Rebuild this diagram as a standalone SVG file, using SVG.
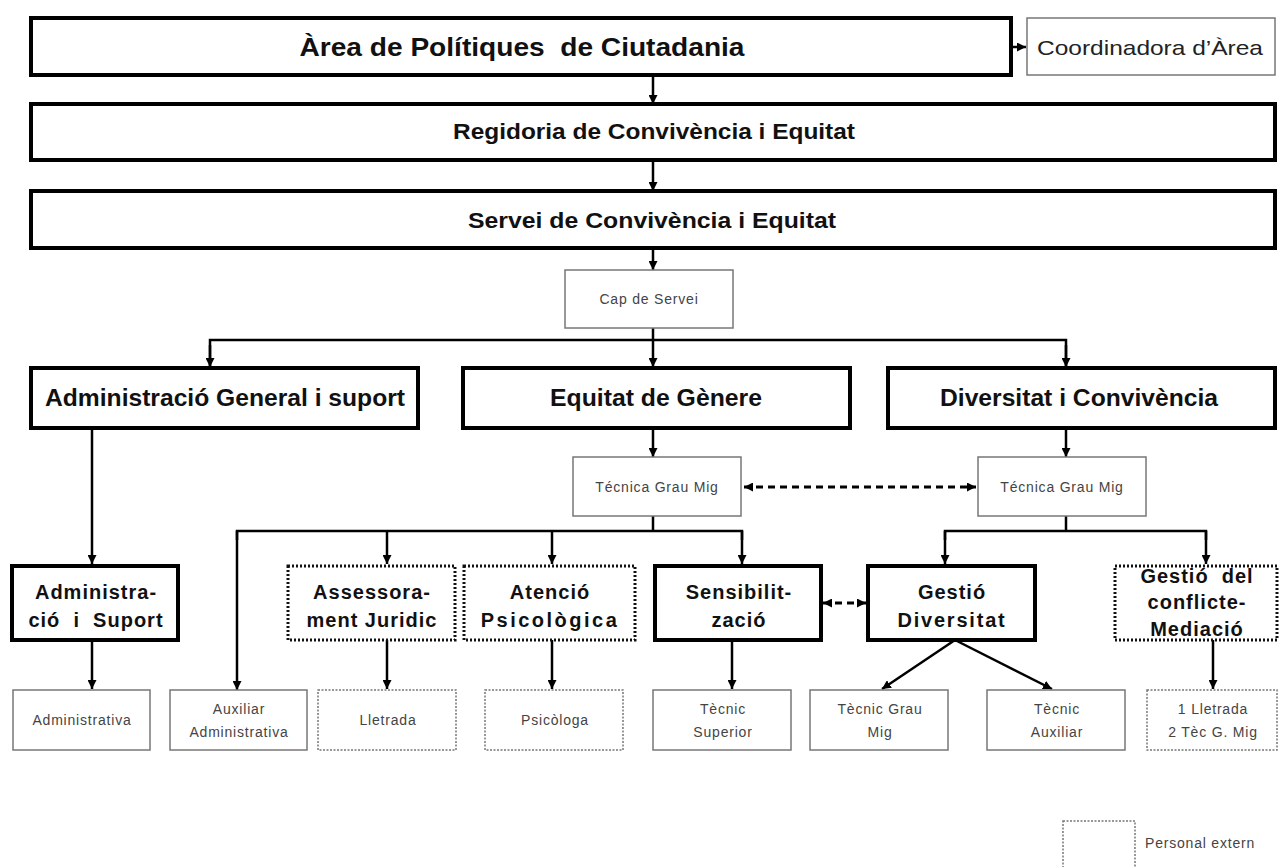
<svg xmlns="http://www.w3.org/2000/svg" width="1280" height="867" viewBox="0 0 1280 867">
<defs>
<marker id="ah" viewBox="0 0 10 10" refX="10" refY="5" markerWidth="9" markerHeight="9" markerUnits="userSpaceOnUse" orient="auto-start-reverse"><path d="M0,0 L10,5 L0,10 z" fill="#000"/></marker>
<style>
.thick{fill:#fff;stroke:#000;stroke-width:4}
.dotk{fill:#fff;stroke:#111;stroke-width:3;stroke-dasharray:2 2}
.thin{fill:#fff;stroke:#777;stroke-width:1.5}
.dott{fill:#fff;stroke:#777;stroke-width:1.5;stroke-dasharray:2 1.5}
.h1{font-family:"Liberation Sans",Arial,sans-serif;font-weight:bold;fill:#111;text-anchor:middle}
.h2{font-family:"Liberation Sans",Arial,sans-serif;font-weight:bold;fill:#111;text-anchor:middle;font-size:20px;letter-spacing:1px}
.sm{font-family:"Liberation Sans",Arial,sans-serif;fill:#444;text-anchor:middle;font-size:14px;letter-spacing:0.8px}
.ln{fill:none;stroke:#000;stroke-width:2.5}
.la{fill:none;stroke:#000;stroke-width:2.5;marker-end:url(#ah)}
.da{fill:none;stroke:#000;stroke-width:3;stroke-dasharray:7 5;marker-start:url(#ah);marker-end:url(#ah)}
</style>
</defs>
<rect width="1280" height="867" fill="#fff"/>

<g id="connectors">
<line class="la" x1="1011" y1="47" x2="1026" y2="47"/>
<line class="la" x1="653" y1="75" x2="653" y2="104"/>
<line class="la" x1="653" y1="160" x2="653" y2="191"/>
<line class="la" x1="653" y1="248" x2="653" y2="270"/>
<line class="ln" x1="653" y1="328" x2="653" y2="340"/>
<polyline class="ln" points="210,367 210,340 1066,340 1066,367"/>
<line class="la" x1="210" y1="345" x2="210" y2="367"/>
<line class="la" x1="653" y1="340" x2="653" y2="367"/>
<line class="la" x1="1066" y1="345" x2="1066" y2="367"/>
<line class="la" x1="653" y1="428" x2="653" y2="457"/>
<line class="la" x1="1066" y1="428" x2="1066" y2="457"/>
<line class="da" x1="744" y1="487" x2="976" y2="487"/>
<line class="ln" x1="653" y1="516" x2="653" y2="531"/>
<polyline class="ln" points="237,540 237,531 742,531 742,540"/>
<line class="la" x1="237" y1="531" x2="237" y2="690"/>
<line class="la" x1="387" y1="531" x2="387" y2="564"/>
<line class="la" x1="552" y1="531" x2="552" y2="564"/>
<line class="la" x1="742" y1="531" x2="742" y2="564"/>
<line class="la" x1="92" y1="428" x2="92" y2="564"/>
<line class="ln" x1="1066" y1="516" x2="1066" y2="531"/>
<polyline class="ln" points="945,540 945,531 1206,531 1206,540"/>
<line class="la" x1="945" y1="531" x2="945" y2="564"/>
<line class="la" x1="1206" y1="531" x2="1206" y2="564"/>
<line class="da" x1="823" y1="603" x2="866" y2="603"/>
<line class="la" x1="92" y1="640" x2="92" y2="689"/>
<line class="la" x1="387" y1="640" x2="387" y2="689"/>
<line class="la" x1="552" y1="640" x2="552" y2="689"/>
<line class="la" x1="732" y1="640" x2="732" y2="689"/>
<line class="la" x1="955" y1="640" x2="882" y2="689"/>
<line class="la" x1="955" y1="640" x2="1052" y2="689"/>
<line class="la" x1="1213" y1="640" x2="1213" y2="689"/>
</g>

<g id="area"><rect class="thick" x="31" y="18" width="980" height="57"/><text class="h1" x="522" y="56" font-size="25" textLength="445" lengthAdjust="spacingAndGlyphs" xml:space="preserve">Àrea de Polítiques  de Ciutadania</text></g>
<g id="coordinadora"><rect class="thin" x="1027" y="18" width="248" height="57"/><text x="1150" y="55" font-family="Liberation Sans, Arial, sans-serif" font-size="21" fill="#222" text-anchor="middle" textLength="226" lengthAdjust="spacingAndGlyphs">Coordinadora d’Àrea</text></g>
<g id="regidoria"><rect class="thick" x="31" y="104" width="1244" height="56"/><text class="h1" x="654" y="139" font-size="22" textLength="402" lengthAdjust="spacingAndGlyphs">Regidoria de Convivència i Equitat</text></g>
<g id="servei"><rect class="thick" x="31" y="191" width="1244" height="57"/><text class="h1" x="652" y="228" font-size="22" textLength="368" lengthAdjust="spacingAndGlyphs">Servei de Convivència i Equitat</text></g>
<g id="cap"><rect class="thin" x="565" y="270" width="168" height="58"/><text class="sm" x="649" y="304">Cap de Servei</text></g>

<g id="admin-general"><rect class="thick" x="31" y="368" width="387" height="60"/><text class="h1" x="225" y="406" font-size="23" textLength="360" lengthAdjust="spacingAndGlyphs">Administració General i suport</text></g>
<g id="equitat"><rect class="thick" x="463" y="368" width="387" height="60"/><text class="h1" x="656" y="406" font-size="23" textLength="212" lengthAdjust="spacingAndGlyphs">Equitat de Gènere</text></g>
<g id="diversitat"><rect class="thick" x="888" y="368" width="387" height="60"/><text class="h1" x="1079" y="406" font-size="23" textLength="278" lengthAdjust="spacingAndGlyphs">Diversitat i Convivència</text></g>

<g id="tecnica-l"><rect class="thin" x="573" y="457" width="168" height="59"/><text class="sm" x="657" y="492">Técnica Grau Mig</text></g>
<g id="tecnica-r"><rect class="thin" x="978" y="457" width="168" height="59"/><text class="sm" x="1062" y="492">Técnica Grau Mig</text></g>

<g id="admin-suport"><rect class="thick" x="12" y="566" width="166" height="74"/><text class="h2" x="96" y="599">Administra-</text><text class="h2" x="96" y="627" xml:space="preserve">ció  i  Suport</text></g>
<g id="assessorament"><rect class="dotk" x="288" y="566" width="167" height="74"/><text class="h2" x="372" y="599">Assessora-</text><text class="h2" x="372" y="627">ment Juridic</text></g>
<g id="atencio"><rect class="dotk" x="464" y="566" width="171" height="74"/><text class="h2" x="550" y="599">Atenció</text><text class="h2" x="550" y="627" style="letter-spacing:2.5px">Psicològica</text></g>
<g id="sensibilitzacio"><rect class="thick" x="655" y="566" width="166" height="74"/><text class="h2" x="739" y="599">Sensibilit-</text><text class="h2" x="739" y="627">zació</text></g>
<g id="gestio-diversitat"><rect class="thick" x="868" y="566" width="167" height="74"/><text class="h2" x="952" y="599">Gestió</text><text class="h2" x="952" y="627" style="letter-spacing:1.8px">Diversitat</text></g>
<g id="gestio-conflicte"><rect class="dotk" x="1115" y="566" width="162" height="74"/><text class="h2" x="1197" y="583" xml:space="preserve">Gestió  del</text><text class="h2" x="1197" y="609">conflicte-</text><text class="h2" x="1197" y="636">Mediació</text></g>

<g id="administrativa"><rect class="thin" x="13" y="690" width="137" height="60"/><text class="sm" x="82" y="725">Administrativa</text></g>
<g id="auxiliar-admin"><rect class="thin" x="170" y="690" width="137" height="60"/><text class="sm" x="239" y="714">Auxiliar</text><text class="sm" x="239" y="737">Administrativa</text></g>
<g id="lletrada"><rect class="dott" x="318" y="690" width="138" height="60"/><text class="sm" x="388" y="725">Lletrada</text></g>
<g id="psicologa"><rect class="dott" x="485" y="690" width="138" height="60"/><text class="sm" x="555" y="725">Psicòloga</text></g>
<g id="tecnic-superior"><rect class="thin" x="653" y="690" width="138" height="60"/><text class="sm" x="723" y="714">Tècnic</text><text class="sm" x="723" y="737">Superior</text></g>
<g id="tecnic-grau-mig"><rect class="thin" x="810" y="690" width="138" height="60"/><text class="sm" x="880" y="714">Tècnic Grau</text><text class="sm" x="880" y="737">Mig</text></g>
<g id="tecnic-auxiliar"><rect class="thin" x="987" y="690" width="138" height="60"/><text class="sm" x="1057" y="714">Tècnic</text><text class="sm" x="1057" y="737">Auxiliar</text></g>
<g id="lletrada-tec"><rect class="dott" x="1147" y="690" width="130" height="60"/><text class="sm" x="1213" y="714">1 Lletrada</text><text class="sm" x="1213" y="737">2 Tèc G. Mig</text></g>

<g id="legend"><rect class="dott" x="1063" y="821" width="72" height="60"/><text x="1145" y="848" font-family="Liberation Sans, Arial, sans-serif" font-size="14" letter-spacing="0.8" fill="#444">Personal extern</text></g>
</svg>
